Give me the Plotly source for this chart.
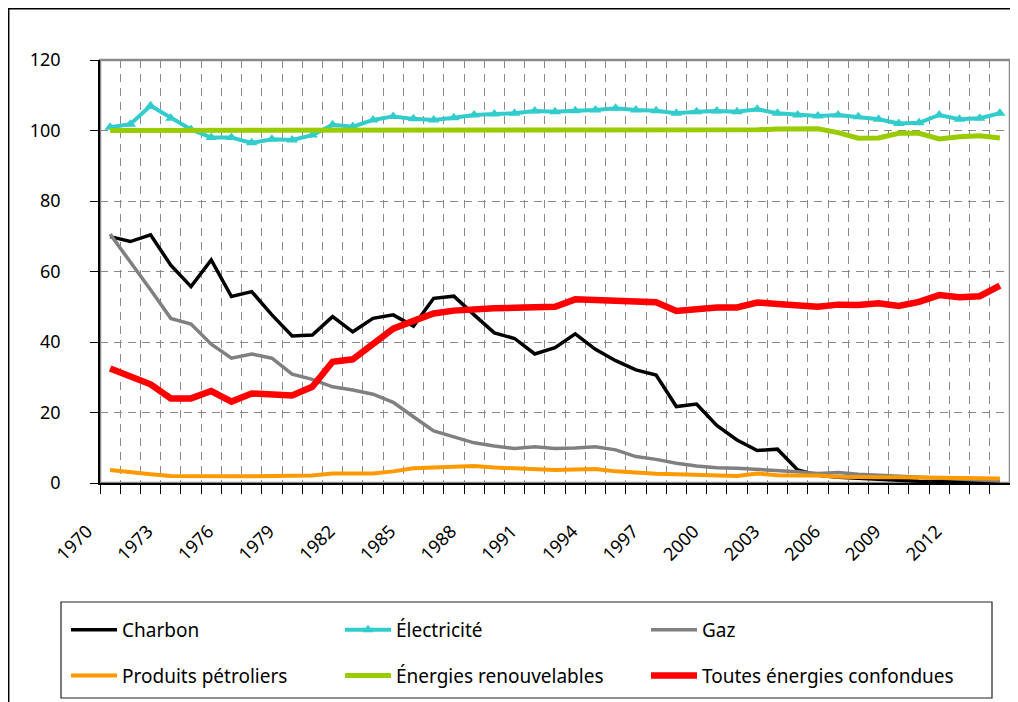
import plotly.graph_objects as go

years = list(range(1970, 2015))

charbon = [69.9, 68.5, 70.4, 61.8, 55.7, 63.3, 52.9, 54.3, 47.7, 41.7,
           42.0, 47.2, 42.9, 46.7, 47.7, 44.5, 52.4, 53.0, 47.7, 42.6,
           41.0, 36.6, 38.4, 42.3, 37.9, 34.7, 32.1, 30.6, 21.7, 22.4,
           16.3, 12.2, 9.2, 9.6, 3.7, 2.2, 1.6, 1.3, 1.0, 0.7,
           0.5, 0.4, 0.3, 0.3, 0.3]

electricite = [100.9, 101.8, 107.0, 103.5, 100.3, 98.0, 98.0, 96.5, 97.5, 97.3,
               98.7, 101.6, 101.1, 103.0, 104.0, 103.3, 103.0, 103.6, 104.4, 104.7,
               104.9, 105.5, 105.3, 105.6, 105.8, 106.3, 105.8, 105.6, 104.9, 105.3,
               105.5, 105.3, 106.0, 104.9, 104.4, 104.1, 104.4, 103.9, 103.2, 102.0,
               102.2, 104.4, 103.2, 103.5, 104.9]

gaz = [70.6, 62.8, 54.8, 46.7, 45.1, 39.4, 35.4, 36.6, 35.4, 30.9,
       29.4, 27.3, 26.4, 25.2, 22.9, 18.8, 14.8, 13.1, 11.4, 10.5,
       9.8, 10.3, 9.8, 9.9, 10.3, 9.4, 7.5, 6.7, 5.6, 4.8,
       4.3, 4.2, 3.9, 3.5, 3.2, 2.7, 3.0, 2.5, 2.2, 1.9,
       1.6, 1.3, 1.1, 0.9, 0.6]

petrole = [3.7, 3.0, 2.5, 2.0, 1.9, 1.9, 1.9, 1.9, 1.9, 1.9,
           2.1, 2.7, 2.7, 2.7, 3.3, 4.2, 4.4, 4.6, 4.8, 4.4,
           4.1, 4.0, 3.7, 3.8, 4.0, 3.3, 2.9, 2.6, 2.5, 2.3,
           2.1, 2.0, 2.7, 2.2, 2.1, 2.1, 1.8, 1.6, 1.6, 1.6,
           1.5, 1.5, 1.4, 1.4, 1.3]

renouvelables = [100.0] * 31 + [100.0, 100.2, 100.4, 100.5, 100.5, 99.4, 97.8, 97.9, 99.2,
                                 99.2, 97.6, 98.2, 98.5, 97.9]

toutes = [32.5, 30.2, 28.0, 24.0, 24.0, 26.1, 23.1, 25.4, 25.0, 24.8,
          27.3, 34.4, 35.1, 39.6, 43.8, 46.0, 48.1, 48.9, 49.4, 49.6,
          49.7, 49.9, 50.0, 52.1, 51.9, 51.6, 51.4, 51.3, 48.8, 49.4,
          49.8, 49.8, 51.2, 50.8, 50.4, 50.0, 50.6, 50.5, 51.0, 50.2,
          51.4, 53.3, 52.7, 53.0, 56.0]

label_years = list(range(1970, 2013, 3))
y_ticks = [0, 20, 40, 60, 80, 100, 120]

font_family = "Noto Sans, Open Sans, DejaVu Sans, sans-serif"

fig = go.Figure()
fig.add_trace(go.Scatter(x=years, y=charbon, name="Charbon", mode="lines",
                         legend="legend", legendgroup="a",
                         line=dict(color="#000000", width=3.5)))
fig.add_trace(go.Scatter(x=years, y=electricite, name="Électricité", mode="lines+markers",
                         legend="legend2", legendgroup="b",
                         line=dict(color="#33CCCC", width=4),
                         marker=dict(symbol="triangle-up", size=10, color="#33CCCC")))
fig.add_trace(go.Scatter(x=years, y=gaz, name="Gaz", mode="lines",
                         legend="legend3", legendgroup="c",
                         line=dict(color="#808080", width=3.5)))
fig.add_trace(go.Scatter(x=years, y=petrole, name="Produits pétroliers", mode="lines",
                         legend="legend", legendgroup="d",
                         line=dict(color="#FF9900", width=4)))
fig.add_trace(go.Scatter(x=years, y=renouvelables, name="Énergies renouvelables", mode="lines",
                         legend="legend2", legendgroup="e",
                         line=dict(color="#99CC00", width=5)))
fig.add_trace(go.Scatter(x=years, y=toutes, name="Toutes énergies confondues", mode="lines",
                         legend="legend3", legendgroup="f",
                         line=dict(color="#FF0000", width=6.5)))

# the page body adds an 8px offset: work in screen coordinates and convert
OFF = 8
W, H = 1018 - OFF, 702 - OFF
L, T = 100 - OFF, 60 - OFF
R = W - (1010 - OFF)
B = H - (483 - OFF)
pw, ph = W - L - R, H - T - B


def px_x(p):
    return (p - OFF - L) / pw


def px_y(p):
    return (H - B - (p - OFF)) / ph


leg_common = dict(orientation="v", yanchor="top", xanchor="left", borderwidth=0,
                  bgcolor="rgba(0,0,0,0)", font=dict(size=19), tracegroupgap=18,
                  itemwidth=46, traceorder="grouped")

fig.update_layout(
    width=W, height=H,
    margin=dict(l=L, r=R, t=T, b=B, autoexpand=False),
    paper_bgcolor="white", plot_bgcolor="white",
    font=dict(family=font_family, size=18, color="black"),
    showlegend=True,
    legend=dict(x=px_x(66), y=px_y(611), **leg_common),
    legend2=dict(x=px_x(340), y=px_y(611), **leg_common),
    legend3=dict(x=px_x(646), y=px_y(611), **leg_common),
    xaxis=dict(range=[1969.5, 2014.5], tickmode="array", tickvals=label_years,
               ticktext=[str(y) for y in label_years], tickangle=-45,
               ticks="", showgrid=False, zeroline=False, automargin=False,
               showline=True, linecolor="black", linewidth=1.5,
               ticklabelstandoff=29, ticklabelshift=-23,
               tickfont=dict(size=18),
               minor=dict(tick0=1969.5, dtick=1, ticks="outside", ticklen=9,
                          tickcolor="black", showgrid=True, gridcolor="#8a8a8a",
                          griddash="8px,6px", gridwidth=1)),
    yaxis=dict(range=[0, 120], tickvals=y_ticks, ticks="outside", ticklen=8,
               tickcolor="black", showline=True, linecolor="black", linewidth=1.5,
               showgrid=True, gridcolor="#8a8a8a", griddash="8px,6px", gridwidth=1,
               zeroline=False, automargin=False, ticklabelstandoff=26,
               tickfont=dict(size=18)),
)

# plot area border (top/right gray)
fig.add_shape(type="rect", xref="paper", yref="paper", x0=0, x1=1, y0=0, y1=1,
              line=dict(color="#8a8a8a", width=2.5), layer="below")
# outer chart frame
fig.add_shape(type="rect", xref="paper", yref="paper", x0=px_x(8.7), x1=px_x(1030),
              y0=px_y(720), y1=px_y(8.7), line=dict(color="black", width=1.5), layer="below")
# legend frame
fig.add_shape(type="rect", xref="paper", yref="paper", x0=px_x(61), x1=px_x(992),
              y0=px_y(698), y1=px_y(602), line=dict(color="#222222", width=1.2), layer="below")

fig.write_html("out.html")
